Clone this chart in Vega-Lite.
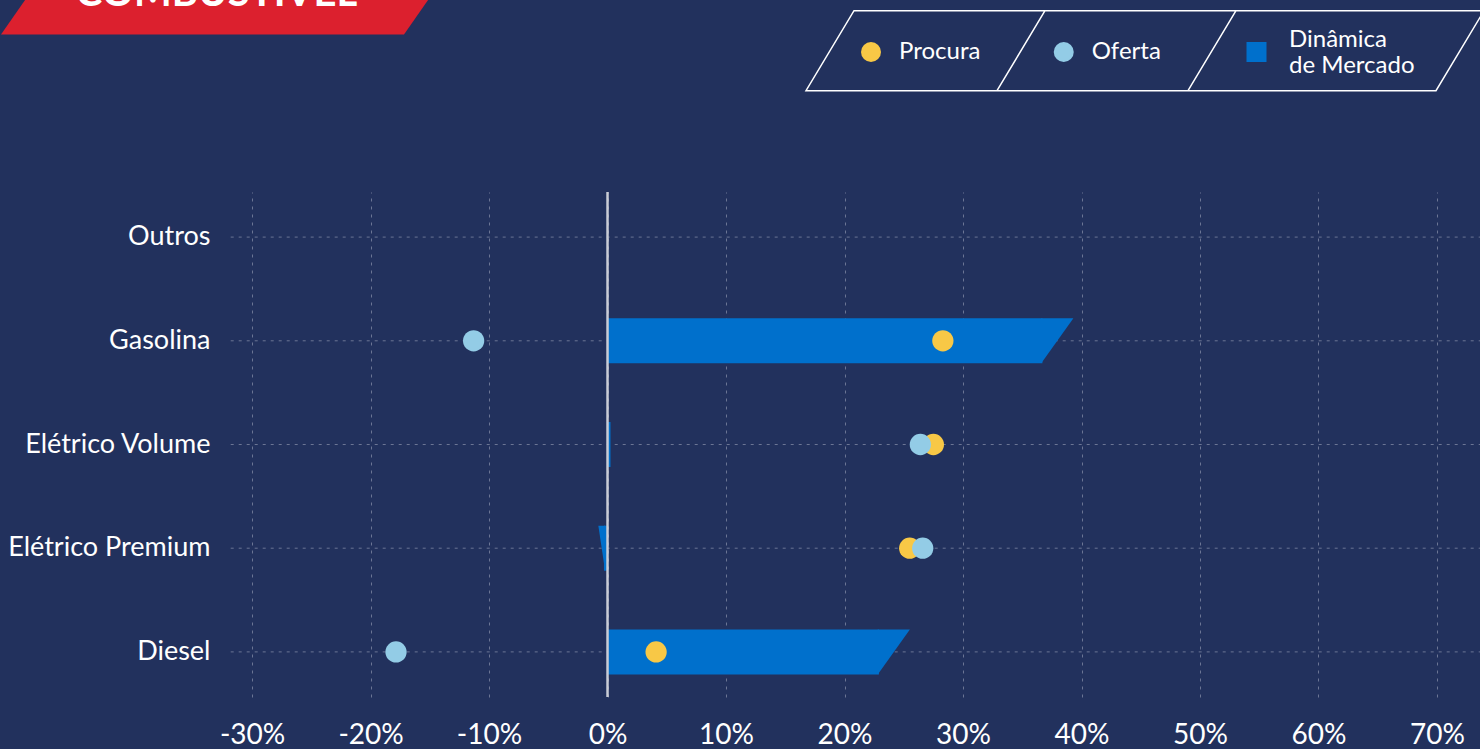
{
  "$schema": "https://vega.github.io/schema/vega-lite/v6.json",
  "background": "#22315d",
  "padding": 0,
  "spacing": 86,
  "config": {
    "view": {"stroke": null},
    "font": "Lato",
    "axis": {"labelFont": "Lato"},
    "text": {"font": "Lato"}
  },
  "datasets": {
    "mercado": [
      {"categoria": "Outros", "procura": null, "oferta": null, "dinamica": null},
      {"categoria": "Gasolina", "procura": 0.283, "oferta": -0.113, "dinamica": 0.367},
      {"categoria": "Elétrico Volume", "procura": 0.275, "oferta": 0.264, "dinamica": 0.0025},
      {"categoria": "Elétrico Premium", "procura": 0.255, "oferta": 0.266, "dinamica": -0.003},
      {"categoria": "Diesel", "procura": 0.041, "oferta": -0.1785, "dinamica": 0.229}
    ],
    "legenda": [
      {"item": "Procura"},
      {"item": "Oferta"},
      {"item": "Dinâmica de Mercado"}
    ]
  },
  "vconcat": [
    {
      "width": 1480,
      "height": 104,
      "data": {"name": "legenda"},
      "layer": [
        {
          "transform": [{"filter": "datum.item === 'Procura'"}],
          "mark": {"type": "point", "shape": "M-7.39,-0.175L-3.36,-0.175L-2.98,-0.72L-7.01,-0.72Z", "size": 40000, "filled": true, "color": "#dc202e", "opacity": 1, "strokeWidth": 0, "clip": true},
          "encoding": {}
        },
        {
          "transform": [{"filter": "datum.item === 'Procura'"}],
          "mark": {"type": "text", "text": "COMBUSTÍVEL", "align": "center", "baseline": "alphabetic", "dx": -523.5, "dy": -46, "fontSize": 40, "fontWeight": "bold", "color": "white", "clip": true},
          "encoding": {}
        },
        {
          "transform": [{"filter": "datum.item === 'Oferta'"}],
          "mark": {"type": "point", "shape": "M-2.0975,-0.413L4.2025,-0.413L3.7225,0.387L-2.5775,0.387Z M-0.1875,-0.413L-0.6675,0.387 M1.7225,-0.413L1.2425,0.387", "size": 40000, "filled": false, "color": "white", "opacity": 1, "strokeWidth": 1.5, "clip": true},
          "encoding": {
            "x": {"field": "item", "type": "nominal", "scale": {"type": "point", "domain": ["Procura", "Oferta", "Dinâmica de Mercado"], "range": [871, 1256.5], "padding": 0}, "axis": null}
          }
        },
        {
          "mark": {"type": "point", "filled": true, "opacity": 1, "size": 400, "strokeWidth": 0, "clip": true},
          "encoding": {
            "x": {"field": "item", "type": "nominal", "scale": {"type": "point", "domain": ["Procura", "Oferta", "Dinâmica de Mercado"], "range": [871, 1256.5], "padding": 0}, "axis": null},
            "shape": {"condition": {"test": "datum.item === 'Dinâmica de Mercado'", "value": "square"}, "value": "circle"},
            "color": {"field": "item", "type": "nominal", "scale": {"domain": ["Procura", "Oferta", "Dinâmica de Mercado"], "range": ["#f8c846", "#93cce6", "#0070cc"]}, "legend": null}
          }
        },
        {
          "transform": [{"filter": "datum.item !== 'Dinâmica de Mercado'"}],
          "mark": {"type": "text", "align": "left", "baseline": "middle", "dx": 28, "fontSize": 24, "color": "white", "clip": true},
          "encoding": {
            "x": {"field": "item", "type": "nominal", "scale": {"type": "point", "domain": ["Procura", "Oferta", "Dinâmica de Mercado"], "range": [871, 1256.5], "padding": 0}, "axis": null},
            "text": {"field": "item"}
          }
        },
        {
          "transform": [{"filter": "datum.item === 'Dinâmica de Mercado'"}],
          "mark": {"type": "text", "align": "left", "baseline": "middle", "dx": 32.5, "dy": -12, "fontSize": 24, "lineHeight": 26, "color": "white", "clip": true},
          "encoding": {
            "x": {"field": "item", "type": "nominal", "scale": {"type": "point", "domain": ["Procura", "Oferta", "Dinâmica de Mercado"], "range": [871, 1256.5], "padding": 0}, "axis": null},
            "text": {"value": ["Dinâmica", "de Mercado"]}
          }
        }
      ]
    },
    {
      "width": 1480,
      "height": 505,
      "data": {"name": "mercado"},
      "layer": [
        {
          "mark": {"type": "rule", "strokeDash": [3, 5], "color": "#6b7594", "strokeWidth": 1},
          "encoding": {
            "y": {"field": "categoria", "type": "nominal", "scale": {"type": "band", "domain": ["Outros", "Gasolina", "Elétrico Volume", "Elétrico Premium", "Diesel"], "paddingInner": 0.5, "paddingOuter": 0.185}, "axis": {"title": null, "domain": false, "ticks": false, "tickSize": 0, "grid": false, "labelPadding": -210, "labelAlign": "right", "labelBaseline": "middle", "labelFontSize": 27, "labelLimit": 0, "labelColor": "white"}},
            "x": {"datum": -0.318, "type": "quantitative", "scale": {"domain": [-0.5127, 0.7363], "nice": false, "zero": false}, "axis": {"title": null, "values": [-0.3, -0.2, -0.1, 0, 0.1, 0.2, 0.3, 0.4, 0.5, 0.6, 0.7], "format": ".0%", "labelExpr": "replace(datum.label, '\u2212', '-')", "domain": false, "ticks": false, "tickSize": 0, "grid": true, "gridDash": [3, 5], "gridColor": "#6b7594", "gridWidth": 1, "labelFontSize": 28, "labelColor": "white", "labelPadding": 24, "labelFlush": false}},
            "x2": {"datum": 0.7363}
          }
        },
        {
          "mark": {"type": "bar", "color": "#0070cc", "size": 45},
          "encoding": {
            "y": {"field": "categoria", "type": "nominal", "scale": {"type": "band", "domain": ["Outros", "Gasolina", "Elétrico Volume", "Elétrico Premium", "Diesel"], "paddingInner": 0.5, "paddingOuter": 0.185}},
            "x": {"field": "dinamica", "type": "quantitative"}
          }
        },
        {
          "transform": [{"filter": "datum.dinamica > 0.01 || datum.dinamica < 0"}],
          "mark": {"type": "point", "filled": true, "opacity": 1, "size": 2025, "color": "#0070cc", "strokeWidth": 0},
          "encoding": {
            "y": {"field": "categoria", "type": "nominal", "scale": {"type": "band", "domain": ["Outros", "Gasolina", "Elétrico Volume", "Elétrico Premium", "Diesel"], "paddingInner": 0.5, "paddingOuter": 0.185}},
            "x": {"field": "dinamica", "type": "quantitative"},
            "shape": {"condition": {"test": "datum.dinamica < 0", "value": "M0.05,1L0.05,-1L-0.25,-1Z"}, "value": "M-0.05,1L-0.05,-1L1.378,-1Z"}
          }
        },
        {
          "data": {"values": [{}]},
          "mark": {"type": "rule", "color": "#c9ccd6", "strokeWidth": 2.5},
          "encoding": {
            "x": {"datum": 0, "type": "quantitative"}
          }
        },
        {
          "mark": {"type": "circle", "color": "#f8c846", "opacity": 1, "size": 452},
          "encoding": {
            "y": {"field": "categoria", "type": "nominal", "scale": {"type": "band", "domain": ["Outros", "Gasolina", "Elétrico Volume", "Elétrico Premium", "Diesel"], "paddingInner": 0.5, "paddingOuter": 0.185}},
            "x": {"field": "procura", "type": "quantitative"}
          }
        },
        {
          "mark": {"type": "circle", "color": "#93cce6", "opacity": 1, "size": 452},
          "encoding": {
            "y": {"field": "categoria", "type": "nominal", "scale": {"type": "band", "domain": ["Outros", "Gasolina", "Elétrico Volume", "Elétrico Premium", "Diesel"], "paddingInner": 0.5, "paddingOuter": 0.185}},
            "x": {"field": "oferta", "type": "quantitative"}
          }
        }
      ]
    }
  ]
}
